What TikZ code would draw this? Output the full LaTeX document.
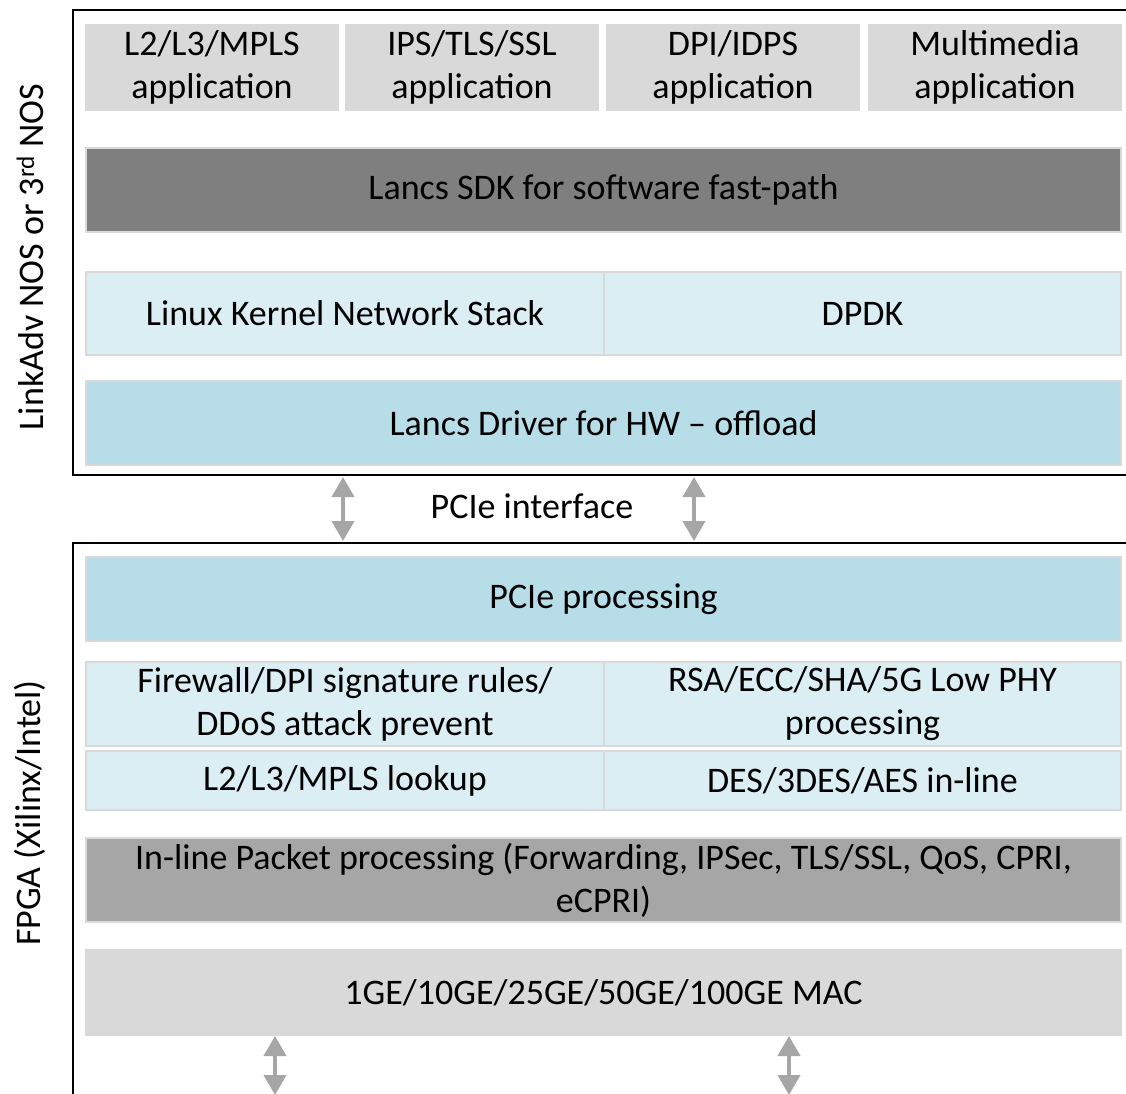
\documentclass[tikz,border=0pt]{standalone}
\usepackage{fontspec}
\setmainfont{Carlito}
\usetikzlibrary{arrows.meta}
\definecolor{appgray}{HTML}{D9D9D9}
\definecolor{sdkgray}{HTML}{7F7F7F}
\definecolor{midgray}{HTML}{A6A6A6}
\definecolor{paleblue}{HTML}{DAEEF3}
\definecolor{lightblue}{HTML}{B7DEE8}
\definecolor{edgegray}{HTML}{D9D9D9}
\tikzset{
  blk/.style={draw=edgegray, line width=1.5pt, inner sep=0pt, align=center, font=\fontsize{36}{43}\selectfont},
  frame/.style={draw=black, line width=2pt},
  garrow/.style={draw=midgray, line width=4pt, {Triangle[width=22pt,length=20pt]}-{Triangle[width=22pt,length=20pt]}, shorten <=0pt, shorten >=0pt},
  sidelabel/.style={rotate=90, font=\fontsize{36}{43}\selectfont}
}
\begin{document}
\begin{tikzpicture}[x=1pt,y=-1pt]
\useasboundingbox (0,0) rectangle (1126,1093);
% frames
\draw[frame] (1130,10) -- (73,10) -- (73,475) -- (1130,475);
\draw[frame] (1130,543) -- (73,543) -- (73,1100);
% top applications
\node[blk, fill=appgray, minimum width=252pt, minimum height=85pt] (app1) at (212,67.5) {L2/L3/MPLS\\application};
\node[blk, fill=appgray, minimum width=252pt, minimum height=85pt] (app2) at (472,67.5) {IPS/TLS/SSL\\application};
\node[blk, fill=appgray, minimum width=252pt, minimum height=85pt] (app3) at (733,67.5) {DPI/IDPS\\application};
\node[blk, fill=appgray, minimum width=252pt, minimum height=85pt] (app4) at (995,67.5) {Multimedia\\application};
% SDK
\node[blk, fill=sdkgray, minimum width=1035pt, minimum height=84pt] (sdk) at (603.5,190) {Lancs SDK for software fast-path};
% Linux / DPDK
\node[blk, fill=paleblue, minimum width=518pt, minimum height=83pt] (linux) at (345,313.5) {Linux Kernel Network Stack};
\node[blk, fill=paleblue, minimum width=517pt, minimum height=83pt] (dpdk) at (862.5,313.5) {DPDK};
% driver
\node[blk, fill=lightblue, minimum width=1035pt, minimum height=84pt] (drv) at (603.5,423) {Lancs Driver for HW -- offload};
% PCIe interface
\node[font=\fontsize{36}{43}\selectfont] (pcie) at (532,506) {PCIe interface};
\coordinate (a1t) at (343,477);
\coordinate (a1b) at (343,541);
\coordinate (a2t) at (694,477);
\coordinate (a2b) at (694,541);
\draw[garrow] (a1t) -- (a1b);
\draw[garrow] (a2t) -- (a2b);
% PCIe processing
\node[blk, fill=lightblue, minimum width=1035pt, minimum height=84pt] (pproc) at (603.5,599) {PCIe processing};
% firewall / RSA
\node[blk, fill=paleblue, minimum width=518pt, minimum height=84pt] (fw) at (345,704) {Firewall/DPI signature rules/\\DDoS attack prevent};
\node[blk, fill=paleblue, minimum width=517pt, minimum height=84pt] (rsa) at (862.5,704) {RSA/ECC/SHA/5G Low PHY\\processing};
% lookup / DES
\node[blk, fill=paleblue, minimum width=518pt, minimum height=59pt] (look) at (345,780.5) {L2/L3/MPLS lookup};
\node[blk, fill=paleblue, minimum width=517pt, minimum height=59pt] (des) at (862.5,780.5) {DES/3DES/AES in-line};
% in-line
\node[blk, fill=midgray, minimum width=1035pt, minimum height=84pt] (inl) at (603.5,880) {In-line Packet processing (Forwarding, IPSec, TLS/SSL, QoS, CPRI,\\eCPRI)};
% MAC
\node[blk, fill=appgray, minimum width=1035pt, minimum height=85pt] (mac) at (603.5,992.5) {1GE/10GE/25GE/50GE/100GE MAC};
\coordinate (b1t) at (275,1036);
\coordinate (b1b) at (275,1095);
\coordinate (b2t) at (789,1036);
\coordinate (b2b) at (789,1095);
\draw[garrow] (b1t) -- (b1b);
\draw[garrow] (b2t) -- (b2b);
% side labels
\node[sidelabel] (nos) at (30,257) {LinkAdv NOS or 3\textsuperscript{rd} NOS};
\node[sidelabel] (fpga) at (30,813) {FPGA (Xilinx/Intel)};
\end{tikzpicture}
\end{document}
